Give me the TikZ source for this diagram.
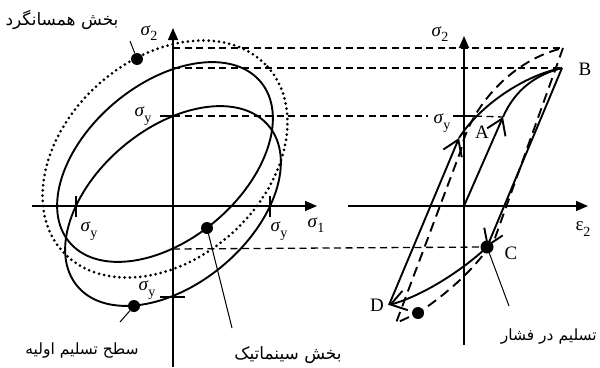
\documentclass[tikz,border=0pt]{standalone}
\usepackage{fontspec}
\setmainfont{Liberation Serif}
\newfontfamily\arabicfont[Script=Arabic]{DejaVu Sans}
\TeXXeTstate=1
\usetikzlibrary{arrows.meta}
\tikzset{
  axis/.style={line width=1.6pt,-{Triangle[length=12pt,width=10pt]}},
  curve/.style={line width=1.9pt},
  hdash/.style={line width=1.3pt,dash pattern=on 7pt off 4.5pt},
  pathdash/.style={line width=1.9pt,dash pattern=on 10pt off 6pt},
  dotline/.style={line width=3pt,line cap=round,dash pattern=on 0pt off 5.2pt},
  barb/.style={-{Straight Barb[length=15pt,width=20pt]}},
  thinline/.style={line width=1pt},
  dot/.style={circle,fill,inner sep=0pt,minimum size=12pt},
  lbl/.style={inner sep=0pt,font=\fontsize{19}{19}\selectfont},
  fa/.style={inner sep=0pt,font=\fontsize{17}{17}\selectfont\arabicfont},
  fasmall/.style={inner sep=0pt,font=\fontsize{15.5}{15.5}\selectfont\arabicfont},
  ticks/.style={line width=1.3pt}
}
\newcommand\sig[1]{\textit{σ}\raisebox{-0.3em}{\fontsize{14}{14}\selectfont #1}}
\begin{document}
\begin{tikzpicture}[x=1pt,y=-1pt]
\useasboundingbox (0,0) rectangle (600,367);
% ---------- left figure ----------
\coordinate (Lo) at (173,206);
\coordinate (Lvb) at (173,367);
\coordinate (Lvt) at (173,28);
\coordinate (Lhl) at (32,206);
\coordinate (Lhr) at (317,206);
\draw[curve, rotate around={40:(173,206)}] (173,206) ellipse [x radius=124.8, y radius=77.7];
\draw[curve, rotate around={40:(165,162)}] (165,162) ellipse [x radius=124.8, y radius=77.7];
\draw[dotline, rotate around={42:(165,159)}] (165,159) ellipse [x radius=138, y radius=100];
\draw[axis] (Lvb) -- (Lvt);
\draw[axis] (Lhl) -- (Lhr);
% ticks
\coordinate (t1a) at (160,116); \coordinate (t1b) at (173,116);
\coordinate (t2a) at (160,297); \coordinate (t2b) at (185,297);
\coordinate (t3a) at (76,196);  \coordinate (t3b) at (76,217);
\coordinate (t4a) at (270,196); \coordinate (t4b) at (270,217);
\draw[ticks] (t1a) -- (t1b);
\draw[ticks] (t2a) -- (t2b);
\draw[ticks] (t3a) -- (t3b);
\draw[ticks] (t4a) -- (t4b);
% dots and leaders
\node[dot] (dIso) at (137,59) {};
\node[dot] (dIni) at (134,306) {};
\node[dot] (dKin) at (207,228) {};
\coordinate (eIso) at (130,41);
\coordinate (eIni) at (120,322);
\coordinate (eKin) at (232,328);
\draw[thinline] (dIso) -- (eIso);
\draw[thinline] (dIni) -- (eIni);
\draw[thinline] (dKin) -- (eKin);
% labels
\node[lbl] (ls2) at (149,33) {\sig{2}};
\node[lbl] (lsy1) at (143,116) {\sig{y}};
\node[lbl] (lsy2) at (147,290) {\sig{y}};
\node[lbl] (lsy3) at (89,231) {\sig{y}};
\node[lbl] (lsy4) at (279,231) {\sig{y}};
\node[lbl] (ls1) at (316,225) {\sig{1}};
\node[fa] (fIso) at (62,20) {\beginR بخش همسانگرد\endR};
\node[fasmall] (fIni) at (82,350) {\beginR سطح تسلیم اولیه\endR};
\node[fa] (fKin) at (288,355) {\beginR بخش سینماتیک\endR};
% ---------- right figure ----------
\coordinate (Ro) at (464,206);
\coordinate (Rvb) at (464,345);
\coordinate (Rvt) at (464,36);
\coordinate (Rhl) at (348,206);
\coordinate (Rhr) at (588,206);
\coordinate (Ay) at (503,117);
\coordinate (B) at (562,68);
\coordinate (C) at (487,247);
\coordinate (D) at (389,305);
\coordinate (R) at (459,138);
\coordinate (T) at (563,48);
\coordinate (E) at (495,238);
\coordinate (F) at (418,313);
\coordinate (K) at (396,323);
\coordinate (G) at (461,150);
\draw[axis] (Rvb) -- (Rvt);
\draw[axis] (Rhl) -- (Rhr);
% horizontal dashed links
\coordinate (h1) at (173,48);
\coordinate (h2) at (173,68);
\coordinate (h3) at (173,116);
\coordinate (h3e) at (428,116);
\coordinate (h4) at (475,116);
\coordinate (h5) at (173,249);
\coordinate (t5a) at (453,116);
\draw[hdash] (h1) -- (T);
\draw[hdash] (h2) -- (B);
\draw[hdash] (h3) -- (h3e);
\draw[hdash] (h4) -- (Ay);
\draw[hdash] (h5) -- (C);
\draw[ticks] (t5a) -- (h4);
% solid loading path
\draw[curve,barb] (Ro) -- (Ay);
\draw[curve] (Ay) .. controls (515,90) and (535,75) .. (B);
\draw[curve,barb] (B) -- (C);
\draw[curve,barb] (C) .. controls (465,268) and (425,295) .. (D);
\draw[curve,barb] (D) -- (R);
\draw[curve] (R) .. controls (480,105) and (525,75) .. (B);
% dashed path
\draw[pathdash] (T) -- (E) .. controls (475,270) and (445,295) .. (F) -- (K) -- (G) .. controls (468,115) and (505,62) .. (T);
\node[dot,minimum size=13pt] (dC) at (C) {};
\node[dot] (dF) at (F) {};
\coordinate (eC) at (509,306);
\draw[thinline] (dC) -- (eC);
% labels
\node[lbl] (rs2) at (440,34) {\sig{2}};
\node[lbl] (rsy) at (442,123) {\sig{y}};
\node[lbl] (re2) at (583,229) {ε\raisebox{-0.3em}{\fontsize{14}{14}\selectfont 2}};
\node[lbl] (lA) at (482,132) {A};
\node[lbl] (lB) at (585,69) {B};
\node[lbl] (lC) at (511,253) {C};
\node[lbl] (lD) at (377,305) {D};
\node[fasmall,anchor=east] (fCmp) at (597,336) {\beginR تسلیم در فشار\endR};
\end{tikzpicture}
\end{document}
